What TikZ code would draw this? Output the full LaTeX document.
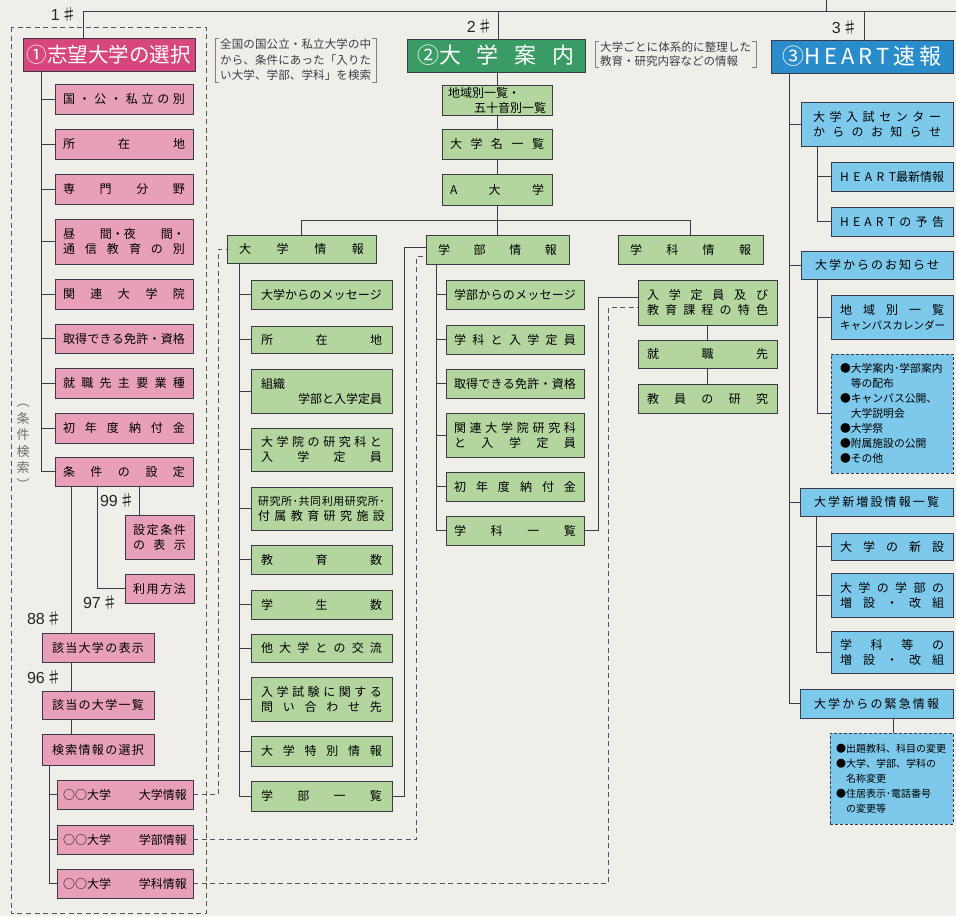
\documentclass[tikz,border=0pt]{standalone}
\usepackage{fontspec}
\setmainfont{Noto Sans CJK JP}
\newfontfamily\numfont{Liberation Sans}
\definecolor{bgc}{HTML}{F0EEE8}
\definecolor{lc}{HTML}{3A3A48}
\definecolor{dc}{HTML}{55555F}
\definecolor{pinkL}{HTML}{E8A0BA}
\definecolor{pinkD}{HTML}{D8467E}
\definecolor{greenL}{HTML}{B2D69E}
\definecolor{greenD}{HTML}{3A9C64}
\definecolor{blueL}{HTML}{7CC9EB}
\definecolor{blueD}{HTML}{2A8DCB}
\definecolor{notec}{HTML}{3C3C44}
\definecolor{brc}{HTML}{808080}
\definecolor{vtc}{HTML}{6E6E6E}
\makeatletter
\def\JSP#1{\noindent\hbox to\hsize{\JSP@a#1\relax}}
\def\JSP@a#1#2{#1\ifx\relax#2\else\hfil\expandafter\JSP@a\expandafter#2\fi}
\makeatother
\newcommand\JHB[1]{\noindent\hbox to\hsize{#1}}
\newcommand\JCT[1]{\noindent\hbox to\hsize{\hss#1\hss}}
\newcommand\JNM[1]{{\numfont\fontsize{16}{16}\selectfont#1}\kern1pt{\fontsize{16}{16}\selectfont ♯}}
\newcommand\JBX[8][8]{\pgfmathsetmacro\jbw{#5-#3}\pgfmathsetmacro\jbh{#6-#4}\pgfmathsetmacro\jtw{#5-#3-2*#1}\node[#7,anchor=north west,inner xsep=#1pt,minimum width=\jbw pt,minimum height=\jbh pt,text width=\jtw pt] (#2) at (#3,#4) {#8};}
\begin{document}
\begin{tikzpicture}[x=1pt,y=-1pt,
 bxs/.style={draw=lc,line width=1pt,inner ysep=1pt,outer sep=0pt,align=left,font=\fontsize{12}{15}\selectfont},
 pk/.style={bxs,fill=pinkL},
 gr/.style={bxs,fill=greenL},
 bl/.style={bxs,fill=blueL},
 dbl/.style={bxs,fill=blueL,dash pattern=on 3pt off 2pt},
 ttl/.style={bxs,text=white,font=\fontsize{22}{24}\selectfont},
 ln/.style={draw=lc,line width=1pt},
 dl/.style={draw=dc,line width=0.8pt,dash pattern=on 5pt off 3.5pt},
 num/.style={inner sep=0pt,text=black!85},
 note/.style={inner xsep=5pt,inner ysep=1pt,align=left,text=notec,font=\fontsize{11.5}{15.5}\selectfont},
 brk/.style={draw=brc,line width=0.6pt}]
\fill[bgc] (0,0) rectangle (956,916);
\useasboundingbox (0,0) rectangle (956,916);
% coordinates
\coordinate (tl) at (83,11); \coordinate (tr) at (956,11);
\coordinate (t2c) at (498,11); \coordinate (t3c) at (864,11);
\coordinate (tu) at (826,0); \coordinate (tu2) at (826,11);
\coordinate (c41) at (41,0); \coordinate (c49) at (49,0);
\coordinate (c71) at (71,0); \coordinate (c97) at (97,0);
\coordinate (c139) at (139,0); \coordinate (c218) at (218,0);
\coordinate (c239) at (239,0); \coordinate (c404) at (404,0);
\coordinate (c416) at (416,0); \coordinate (c436) at (436,0);
\coordinate (c598) at (598,0); \coordinate (c608) at (608,0);
\coordinate (c789) at (789,0); \coordinate (c817) at (817,0);
\coordinate (c816) at (816,0); \coordinate (c893) at (893,0);
\coordinate (hb) at (0,220);
% ---------- column 1 ----------
\JBX[4]{t1}{23}{38}{195}{71}{ttl,fill=pinkD,font=\fontsize{20.5}{24}\selectfont}{\JCT{①志望大学の選択}}
\JBX{p1}{55}{84}{193}{114}{pk}{\JSP{国・公・私立の別}}
\JBX{p2}{55}{129}{193}{159}{pk}{\JSP{所在地}}
\JBX{p3}{55}{174}{193}{204}{pk}{\JSP{専門分野}}
\JBX{p4}{55}{219}{193}{264}{pk}{\JHB{昼\hfil 間・夜\hfil 間・}\\\JSP{通信教育の別}}
\JBX{p5}{55}{279}{193}{309}{pk}{\JSP{関連大学院}}
\JBX{p6}{55}{324}{193}{353}{pk}{\JSP{取得できる免許・資格}}
\JBX{p7}{55}{368}{193}{398}{pk}{\JSP{就職先主要業種}}
\JBX{p8}{55}{413}{193}{443}{pk}{\JSP{初年度納付金}}
\JBX{p9}{55}{457}{193}{486}{pk}{\JSP{条件の設定}}
\JBX{q1}{125}{515}{194}{559}{pk}{\JSP{設定条件}\\\JSP{の表示}}
\JBX{q2}{125}{574}{194}{603}{pk}{\JSP{利用方法}}
\JBX[10]{r1}{42}{633}{154}{662}{pk}{\JSP{該当大学の表示}}
\JBX[10]{r2}{42}{691}{154}{719}{pk}{\JSP{該当の大学一覧}}
\JBX[10]{r3}{42}{734}{154}{765}{pk}{\JSP{検索情報の選択}}
\JBX[6]{s1}{57}{780}{193}{809}{pk}{\JHB{○○大学\hfil 大学情報}}
\JBX[6]{s2}{57}{825}{193}{854}{pk}{\JHB{○○大学\hfil 学部情報}}
\JBX[6]{s3}{57}{869}{193}{898}{pk}{\JHB{○○大学\hfil 学科情報}}
% ---------- column 2 ----------
\JBX[10]{t2}{407}{39}{585}{72}{ttl,fill=greenD}{\JHB{②大\hfil 学\hfil 案\hfil 内}}
\JBX[6]{g1}{442}{85}{552}{115}{gr}{\JHB{地域別一覧・\hfil}\\\JHB{\hfil 五十音別一覧}}
\JBX{g2}{442}{129}{552}{159}{gr}{\JSP{大学名一覧}}
\JBX{g3}{442}{174}{552}{205}{gr}{\JSP{A大学}}
\JBX[12]{d1}{227}{235}{376}{263}{gr}{\JSP{大学情報}}
\JBX[12]{d2}{426}{235}{569}{264}{gr}{\JSP{学部情報}}
\JBX[12]{d3}{618}{235}{763}{264}{gr}{\JSP{学科情報}}
\JBX[10]{e1}{251}{280}{392}{309}{gr}{\JSP{大学からのメッセージ}}
\JBX[10]{e2}{251}{326}{392}{353}{gr}{\JSP{所在地}}
\JBX[10]{e3}{251}{369}{392}{413}{gr}{\JHB{組織\hfil}\\\JHB{\hfil 学部と入学定員}}
\JBX[10]{e4}{251}{428}{392}{471}{gr}{\JSP{大学院の研究科と}\\\JSP{入学定員}}
\JBX[7]{e5}{251}{487}{392}{530}{gr}{{\fontsize{11}{15}\selectfont\JSP{研究所･共同利用研究所･}}\\\JSP{付属教育研究施設}}
\JBX[10]{e6}{251}{545}{392}{574}{gr}{\JSP{教育数}}
\JBX[10]{e7}{251}{590}{392}{619}{gr}{\JSP{学生数}}
\JBX[10]{e8}{251}{634}{392}{662}{gr}{\JSP{他大学との交流}}
\JBX[10]{e9}{251}{677}{392}{721}{gr}{\JSP{入学試験に関する}\\\JSP{問い合わせ先}}
\JBX[10]{e10}{251}{736}{392}{766}{gr}{\JSP{大学特別情報}}
\JBX[10]{e11}{251}{781}{392}{811}{gr}{\JSP{学部一覧}}
\JBX{f1}{446}{280}{584}{309}{gr}{\JSP{学部からのメッセージ}}
\JBX{f2}{446}{325}{584}{354}{gr}{\JSP{学科と入学定員}}
\JBX{f3}{446}{369}{584}{398}{gr}{\JSP{取得できる免許・資格}}
\JBX{f4}{446}{413}{584}{457}{gr}{\JSP{関連大学院研究科}\\\JSP{と入学定員}}
\JBX{f5}{446}{472}{584}{501}{gr}{\JSP{初年度納付金}}
\JBX{f6}{446}{516}{584}{545}{gr}{\JSP{学科一覧}}
\JBX[9]{h1}{638}{280}{777}{325}{gr}{\JSP{入学定員及び}\\\JSP{教育課程の特色}}
\JBX[9]{h2}{638}{340}{777}{368}{gr}{\JSP{就職先}}
\JBX[9]{h3}{638}{384}{777}{413}{gr}{\JSP{教員の研究}}
% ---------- column 3 ----------
\JBX[11]{t3}{771}{40}{953}{73}{ttl,fill=blueD}{\JHB{③H\hfil E\hfil A\hfil R\hfil T\hfil 速\hfil 報}}
\JBX[12]{k1}{801}{102}{953}{146}{bl}{\JSP{大学入試センター}\\\JSP{からのお知らせ}}
\JBX[9]{k1a}{831}{162}{953}{191}{bl}{\JHB{H\hfil E\hfil A\hfil R\hfil T最新情報}}
\JBX[9]{k1b}{831}{207}{953}{236}{bl}{\JSP{HEARTの予告}}
\JBX[14]{k2}{801}{251}{953}{279}{bl}{\JSP{大学からのお知らせ}}
\JBX[9]{k2a}{831}{295}{953}{339}{bl}{\JSP{地域別一覧}\\{\fontsize{10.5}{15}\selectfont\JSP{キャンパスカレンダー}}}
\JBX[9]{k2b}{831}{354}{953}{473}{dbl,font=\fontsize{10.8}{15}\selectfont}{●大学案内･学部案内\\\phantom{●}等の配布\\●キャンパス公開、\\\phantom{●}大学説明会\\●大学祭\\●附属施設の公開\\●その他}
\JBX[14]{k3}{800}{488}{953}{516}{bl}{\JSP{大学新増設情報一覧}}
\JBX[9]{k3a}{831}{533}{953}{560}{bl}{\JSP{大学の新設}}
\JBX[9]{k3b}{831}{573}{953}{617}{bl}{\JSP{大学の学部の}\\\JSP{増設・改組}}
\JBX[9]{k3c}{831}{631}{953}{673}{bl}{\JSP{学科等の}\\\JSP{増設・改組}}
\JBX[14]{k4}{800}{689}{953}{718}{bl}{\JSP{大学からの緊急情報}}
\JBX[6]{k4a}{830}{733}{953}{824}{dbl,font=\fontsize{10}{15}\selectfont}{●出題教科、科目の変更\\●大学、学部、学科の\\\phantom{●}名称変更\\●住居表示･電話番号\\\phantom{●}の変更等}
% ---------- top lines ----------
\draw[ln] (tl) -- (tr);
\draw[ln] (tl) -- (tl |- t1.north);
\draw[ln] (t2c) -- (t2c |- t2.north);
\draw[ln] (t3c) -- (t3c |- t3.north);
\draw[ln] (tu) -- (tu2);
% ---------- column 1 connectors ----------
\draw[ln] (t1.south -| c41) |- (p9.west);
\foreach \n in {p1,p2,p3,p4,p5,p6,p7,p8} \draw[ln] (c41 |- \n.west) -- (\n.west);
\draw[ln] (p9.south -| c71) -- (r1.north -| c71);
\draw[ln] (r1.south -| c71) -- (r2.north -| c71);
\draw[ln] (r2.south -| c71) -- (r3.north -| c71);
\draw[ln] (p9.south -| c97) |- (q2.west);
\draw[ln] (p9.south -| c139) -- (q1.north -| c139);
\draw[ln] (r3.south -| c49) |- (s3.west);
\foreach \n in {s1,s2} \draw[ln] (c49 |- \n.west) -- (\n.west);
% ---------- column 2 connectors ----------
\draw[ln] (g1.north |- t2.south) -- (g1.north);
\draw[ln] (g1.south) -- (g2.north);
\draw[ln] (g2.south) -- (g3.north);
\draw[ln] (g3.south) -- (g3.south |- d2.north);
\draw[ln] (d1.north) -- (d1.north |- hb) -| (d3.north);
\draw[ln] (d1.south -| c239) |- (e11.west);
\foreach \n in {e1,e2,e3,e4,e5,e6,e7,e8,e9,e10} \draw[ln] (c239 |- \n.west) -- (\n.west);
\draw[ln] (d2.south -| c436) |- (f6.west);
\foreach \n in {f1,f2,f3,f4,f5} \draw[ln] (c436 |- \n.west) -- (\n.west);
\draw[ln] (h1.south) -- (h2.north);
\draw[ln] (h2.south) -- (h3.north);
\draw[ln] (e11.east) -- (e11.east -| c404) |- ([yshift=2pt]d2.west);
\draw[ln] (f6.east) -- (f6.east -| c598) |- ([yshift=5pt]h1.west);
% ---------- dashed ----------
\draw[dl] (11,27) rectangle (206,913);
\draw[dl] (s1.east) -- (s1.east -| c218) |- (d1.west);
\draw[dl] (s2.east) -- (s2.east -| c416) |- ([yshift=-7pt]d2.west);
\draw[dl] (s3.east) -- (s3.east -| c608) |- ([yshift=-5pt]h1.west);
% ---------- column 3 connectors ----------
\draw[ln] (t3.south -| c789) |- (k4.west);
\foreach \n in {k1,k2,k3} \draw[ln] (c789 |- \n.west) -- (\n.west);
\draw[ln] (k1.south -| c817) |- (k1b.west);
\draw[ln] (c817 |- k1a.west) -- (k1a.west);
\draw[ln] (k2.south -| c817) |- (k2b.west);
\draw[ln] (c817 |- k2a.west) -- (k2a.west);
\draw[ln] (k3.south -| c816) |- (k3c.west);
\foreach \n in {k3a,k3b} \draw[ln] (c816 |- \n.west) -- (\n.west);
\draw[ln] (k4.south -| c893) -- (k4a.north -| c893);
% ---------- labels ----------
\node[num,anchor=east] (l1) at (77,14) {\JNM{1}};
\node[num,anchor=east] (l2) at (493,26) {\JNM{2}};
\node[num,anchor=east] (l3) at (858,27) {\JNM{3}};
\node[num,anchor=east] (l99) at (135,500) {\JNM{99}};
\node[num,anchor=east] (l97) at (118,602) {\JNM{97}};
\node[num,anchor=east] (l88) at (62,618) {\JNM{88}};
\node[num,anchor=east] (l96) at (62,677) {\JNM{96}};
% ---------- notes ----------
\node[note,anchor=north west,text width=151pt] (nt1) at (215,38) {\JSP{全国の国公立・私立大学の中}\\\JSP{から、条件にあった「入りた}\\\JSP{い大学、学部、学科」を検索}};
\draw[brk] ([xshift=4pt]nt1.north west) -- (nt1.north west) -- (nt1.south west) -- ([xshift=4pt]nt1.south west);
\draw[brk] ([xshift=-4pt]nt1.north east) -- (nt1.north east) -- (nt1.south east) -- ([xshift=-4pt]nt1.south east);
\node[note,anchor=north west,text width=151pt,font=\fontsize{11.5}{13.5}\selectfont] (nt2) at (595,41) {\JSP{大学ごとに体系的に整理した}\\教育・研究内容などの情報};
\draw[brk] ([xshift=4pt]nt2.north west) -- (nt2.north west) -- (nt2.south west) -- ([xshift=4pt]nt2.south west);
\draw[brk] ([xshift=-4pt]nt2.north east) -- (nt2.north east) -- (nt2.south east) -- ([xshift=-4pt]nt2.south east);
\node[align=center,text=vtc,font=\fontsize{13}{16.5}\selectfont,inner sep=0pt] (vt) at (23,447) {︵\\条\\件\\検\\索\\︶};
\end{tikzpicture}
\end{document}
